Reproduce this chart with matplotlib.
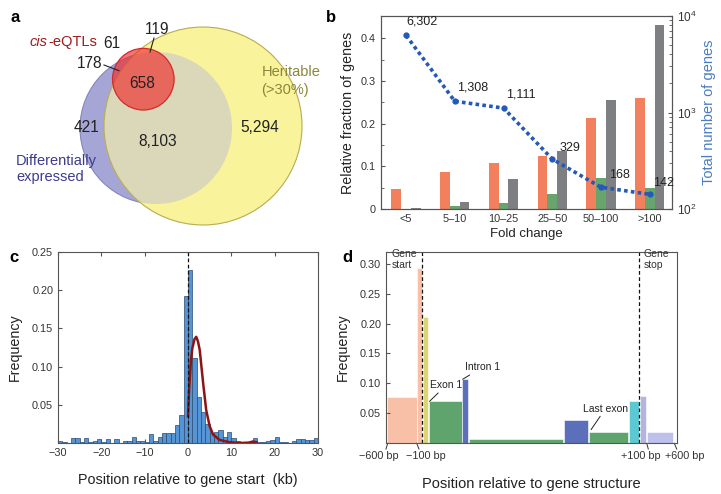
import numpy as np
import matplotlib
matplotlib.use('Agg')
import matplotlib.pyplot as plt
from matplotlib.patches import Circle
import matplotlib.transforms as mtransforms

plt.rcParams['font.family'] = ['Liberation Sans', 'DejaVu Sans']
plt.rcParams['axes.edgecolor'] = '#555555'
plt.rcParams['xtick.color'] = '#555555'
plt.rcParams['ytick.color'] = '#555555'
plt.rcParams['xtick.labelcolor'] = '#333333'
plt.rcParams['ytick.labelcolor'] = '#333333'

W, H = 721, 494

# ---- panel a : venn counts
venn_counts = ['61', '119', '178', '658', '421', '8,103', '5,294']

# ---- panel b : fold change
fold_bins = ['<5', '5\u201310', '10\u201325', '25\u201350', '50\u2013100', '>100']
frac_orange = [0.048, 0.086, 0.108, 0.123, 0.213, 0.259]
frac_green = [0.001, 0.006, 0.014, 0.035, 0.073, 0.049]
frac_gray = [0.002, 0.016, 0.070, 0.137, 0.256, 0.430]
total_genes = [6302, 1308, 1111, 329, 168, 142]

# ---- panel c : histogram, 1 kb bins from -30 to 30
hist_left = [0.002, 0.001, 0.0005, 0.006, 0.006, 0.001, 0.006, 0.001, 0.0025, 0.0055,
             0.0015, 0.005, 0.0005, 0.0055, 0.0005, 0.003, 0.003, 0.0075, 0.002, 0.002,
             0.001, 0.012, 0.002, 0.008, 0.0135, 0.0125, 0.013, 0.023, 0.037, 0.193]
hist_right = [0.226, 0.111, 0.060, 0.040, 0.025, 0.013, 0.014, 0.017, 0.008, 0.014,
              0.006, 0.003, 0.001, 0.0, 0.001, 0.006, 0.001, 0.001, 0.003, 0.004,
              0.008, 0.001, 0.001, 0.0, 0.003, 0.005, 0.005, 0.004, 0.004, 0.006]
fit_x = [0, 0.3, 0.7, 1.0, 1.5, 1.9, 2.3, 2.7, 3.1, 3.5, 4.2, 5.0, 5.8, 7.3, 9.6, 12, 14, 15, 15.8]
fit_y = [0.035, 0.075, 0.109, 0.124, 0.136, 0.139, 0.133, 0.122, 0.100, 0.078, 0.043, 0.022,
         0.011, 0.004, 0.001, 0.0, 0.0005, 0.002, 0.001]

# ---- panel d : gene structure (x in arbitrary layout units)
d_left = [0.7, 30.7, 36.7, 43.0, 76.3, 83.0, 178.3, 203.3, 243.0, 254.0, 261.3]
d_right = [30.7, 36.0, 42.3, 75.7, 82.3, 177.3, 202.3, 241.7, 253.3, 259.7, 287.3]
d_freq = [0.077, 0.293, 0.211, 0.071, 0.108, 0.008, 0.039, 0.019, 0.070, 0.079, 0.019]
d_colors = ['#f8c0a6', '#f8c0a6', '#dcd672', '#5fa46c', '#5b6fba', '#5fa46c',
            '#5b6fba', '#5fa46c', '#5cc8d2', '#b4b4e2', '#bcc0ea']
d_ticks = [1.7, 30.7, 260.7, 288.3]
d_ticklabels = ['\u2212600 bp', '\u2212100 bp', '+100 bp', '+600 bp']


def box(l, t, r, b):
    return [l / W, 1 - b / H, (r - l) / W, (b - t) / H]


fig = plt.figure(figsize=(W / 100, H / 100), dpi=100)

# ================= a
axa = fig.add_axes(box(0, 0, 340, 240))
axa.set_xlim(0, 340)
axa.set_ylim(240, 0)
axa.axis('off')
yel = Circle((203, 126), 99, facecolor='#f9f39c', edgecolor='none', zorder=1)
pur = Circle((156, 128), 76, facecolor='#a6a6d6', edgecolor='#8585c2', lw=0.8, zorder=1)
axa.add_patch(pur)
axa.add_patch(yel)
axa.add_patch(Circle((203, 126), 99, facecolor='none', edgecolor='#b8ac52', lw=0.8, zorder=3))
ov = Circle((156, 128), 76, facecolor='#dbd7b9', edgecolor='none', zorder=2)
axa.add_patch(ov)
ov.set_clip_path(yel)
axa.add_patch(Circle((143.3, 79.2), 30.8, facecolor='#f02828', alpha=0.64, edgecolor='none', zorder=4))
axa.add_patch(Circle((143.3, 79.2), 30.8, facecolor='none', edgecolor='#d42a2a', lw=0.9, zorder=5))

fs = 10.5
pos = [(112, 43), (157, 30), (90, 63), (142, 83), (87, 128), (158, 141), (260, 128)]
for (x, y), s in zip(pos, venn_counts):
    axa.text(x, y, s, ha='center', va='center', fontsize=11.2, color='#222222', zorder=6)
axa.plot([154, 150], [38, 52], color='#222222', lw=0.8, zorder=6)
axa.plot([104, 119], [65, 70.7], color='#222222', lw=0.8, zorder=6)
axa.text(48, 42, 'cis', style='italic', ha='right', va='center', fontsize=fs, color='#a01a1a')
axa.text(48, 42, '-eQTLs', ha='left', va='center', fontsize=fs, color='#a01a1a')
axa.text(262, 72, 'Heritable', ha='left', va='center', fontsize=fs, color='#8a873a')
axa.text(261, 90, '(>30%)', ha='left', va='center', fontsize=fs, color='#8a873a')
axa.text(16, 161, 'Differentially', ha='left', va='center', fontsize=fs, color='#3c3c8e')
axa.text(16, 177, 'expressed', ha='left', va='center', fontsize=fs, color='#3c3c8e')

# ================= b
axb = fig.add_axes(box(380.7, 16, 671.7, 209))
x = np.arange(len(fold_bins))
bw = 0.2
axb.bar(x - bw, frac_orange, bw, color='#f2805f')
axb.bar(x, frac_green, bw, color='#68a56d')
axb.bar(x + bw, frac_gray, bw, color='#7e7f82')
axb.set_ylim(0, 0.452)
axb.set_xlim(-0.52, 5.45)
axb.set_xticks(x)
axb.set_xticklabels(fold_bins)
axb.set_yticks([0, 0.1, 0.2, 0.3, 0.4])
axb.set_yticklabels(['0', '0.1', '0.2', '0.3', '0.4'])
axb.set_yticks(np.arange(0.05, 0.45, 0.1), minor=True)
axb.tick_params(direction='in', labelsize=7.8, length=3)
axb.tick_params(axis='x', length=0)
axb.tick_params(which='minor', direction='in', length=2)
axb.set_xlabel('Fold change', fontsize=9.5, color='#222222', labelpad=3)
axb.set_ylabel('Relative fraction of genes', fontsize=10.3, color='#222222', labelpad=4)
axr = axb.twinx()
axr.set_yscale('log')
axr.set_ylim(100, 10000)
axr.plot(x, total_genes, color='#2459b8', lw=2.6, linestyle=(0, (1, 0.9)),
         marker='o', markersize=3.5, zorder=5)
offs = [(0, 8), (2, 8), (3, 8), (7, 5), (8, 6), (3, 5)]
for xi, v, o in zip(x, total_genes, offs):
    axr.annotate('{:,}'.format(v), (xi, v), xytext=o, textcoords='offset pixels',
                 fontsize=9, color='#222222', ha='left', va='bottom')
axr.tick_params(direction='in', which='both', labelsize=8.5)
axr.tick_params(which='major', length=3)
axr.tick_params(which='minor', length=2)
axr.set_ylabel('Total number of genes', fontsize=10.5, color='#4a7cc4', labelpad=4)

# ================= c
axc = fig.add_axes(box(58, 252, 318, 443))
edges = np.arange(-30, 31, 1)
freq = hist_left + hist_right
axc.bar(edges[:-1], freq, width=1, align='edge', color='#5595d6', edgecolor='#2c4a6e', lw=0.5)
axc.plot(fit_x, fit_y, color='#8c1414', lw=1.8)
axc.axvline(0, color='#111111', lw=0.9, linestyle=(0, (3, 2)))
axc.set_xlim(-30, 30)
axc.set_ylim(0, 0.25)
axc.set_xticks([-30, -20, -10, 0, 10, 20, 30])
axc.set_yticks([0.05, 0.10, 0.15, 0.20, 0.25])
axc.set_yticklabels(['0.05', '0.10', '0.15', '0.20', '0.25'])
axc.tick_params(direction='in', labelsize=7.8, length=3, top=True)
axc.set_xlabel('Position relative to gene start  (kb)', fontsize=10.4, color='#222222', labelpad=11)
axc.set_ylabel('Frequency', fontsize=10.3, color='#222222', labelpad=7)

# ================= d
axd = fig.add_axes(box(386, 251.7, 677.3, 443.3))
axd.bar(d_left, d_freq, width=np.array(d_right) - np.array(d_left), align='edge',
        color=d_colors, edgecolor='#ffffff', lw=0.4)
axd.set_xlim(0, 291.3)
axd.set_ylim(0, 0.32)
axd.axvline(36, color='#111111', lw=0.9, linestyle=(0, (3, 2)))
axd.axvline(253.3, color='#111111', lw=0.9, linestyle=(0, (3, 2)))
axd.set_yticks([0.05, 0.10, 0.15, 0.20, 0.25, 0.30])
axd.set_yticklabels(['0.05', '0.10', '0.15', '0.20', '0.25', '0.30'])
axd.set_xticks([])
axd.tick_params(axis='y', direction='in', labelsize=7.8, length=3)
# slanted tick leaders with offset labels
trans = mtransforms.blended_transform_factory(axd.transData, axd.transAxes)
lead_dx = [-1.7, 2.3, 1.6, 2.4]
lab_x = [-7, 40, 255, 298.5]
for t, dx, lx, s in zip(d_ticks, lead_dx, lab_x, d_ticklabels):
    axd.plot([t, t + dx], [0, -0.03], color='#333333', lw=0.7, transform=trans, clip_on=False)
    axd.text(lx, -0.066, s, transform=trans, ha='center', va='center', fontsize=7.8, color='#333333')
axd.text(5.5, 0.307, 'Gene\nstart', fontsize=7.5, color='#333333', va='center', linespacing=1.2)
axd.text(258, 0.307, 'Gene\nstop', fontsize=7.5, color='#333333', va='center', linespacing=1.2)
axd.annotate('Exon 1', (43.5, 0.070), xytext=(44, 0.092), fontsize=7.5, color='#222222',
             arrowprops=dict(arrowstyle='-', lw=0.7, color='#222222', shrinkA=0, shrinkB=0))
axd.annotate('Intron 1', (76.7, 0.107), xytext=(79, 0.122), fontsize=7.5, color='#222222',
             arrowprops=dict(arrowstyle='-', lw=0.7, color='#222222', shrinkA=0, shrinkB=0))
axd.annotate('Last exon', (203.5, 0.019), xytext=(197, 0.053), fontsize=7.5, color='#222222',
             arrowprops=dict(arrowstyle='-', lw=0.7, color='#222222', shrinkA=0, shrinkB=2))
axd.set_xlabel('Position relative to gene structure', fontsize=10.5, color='#222222', labelpad=24)
axd.set_ylabel('Frequency', fontsize=10.3, color='#222222', labelpad=7)

for s, (px, py) in zip('abcd', [(15, 18), (331, 18), (14, 257), (347, 257)]):
    fig.text(px / W, 1 - py / H, s, fontsize=12, fontweight='bold', ha='center', va='center')

fig.savefig('out.png', dpi=100)
